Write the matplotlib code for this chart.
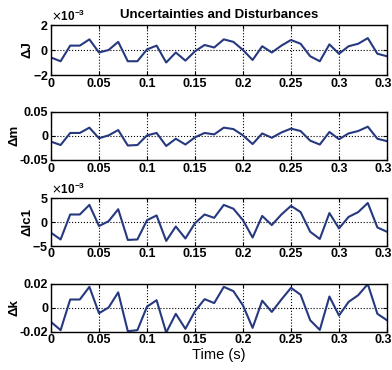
import matplotlib
matplotlib.use("Agg")
import matplotlib.pyplot as plt
from matplotlib.ticker import ScalarFormatter, FuncFormatter
import numpy as np

plt.rcParams['font.family'] = ['Liberation Sans', 'DejaVu Sans']
plt.rcParams['axes.unicode_minus'] = False

time = [0.00, 0.01, 0.02, 0.03, 0.04, 0.05, 0.06, 0.07, 0.08, 0.09,
        0.10, 0.11, 0.12, 0.13, 0.14, 0.15, 0.16, 0.17, 0.18, 0.19,
        0.20, 0.21, 0.22, 0.23, 0.24, 0.25, 0.26, 0.27, 0.28, 0.29,
        0.30, 0.31, 0.32, 0.33, 0.34, 0.35]

dJ = [-0.6e-3, -0.9e-3, 0.35e-3, 0.35e-3, 0.85e-3, -0.2e-3, 0.0, 0.65e-3, -0.9e-3, -0.9e-3,
      0.05e-3, 0.35e-3, -1.0e-3, -0.2e-3, -0.85e-3, -0.1e-3, 0.4e-3, 0.2e-3, 0.85e-3, 0.65e-3,
      0.0, -0.8e-3, 0.3e-3, -0.2e-3, 0.35e-3, 0.8e-3, 0.5e-3, -0.5e-3, -0.9e-3, 0.45e-3,
      -0.3e-3, 0.3e-3, 0.5e-3, 0.95e-3, -0.3e-3, -0.5e-3]

dm = [-0.012, -0.019, 0.006, 0.006, 0.017, -0.005, 0.001, 0.012, -0.020, -0.019,
      0.001, 0.006, -0.021, -0.006, -0.018, -0.003, 0.006, 0.003, 0.017, 0.014,
      0.001, -0.017, 0.005, -0.004, 0.007, 0.015, 0.010, -0.010, -0.018, 0.008,
      -0.007, 0.005, 0.010, 0.019, -0.006, -0.011]

dlc1 = [-2.3e-3, -3.7e-3, 1.5e-3, 1.5e-3, 3.5e-3, -0.9e-3, 0.1e-3, 2.6e-3, -3.8e-3, -3.7e-3,
        0.3e-3, 1.3e-3, -4.0e-3, -1.0e-3, -3.5e-3, -0.3e-3, 1.5e-3, 0.8e-3, 3.5e-3, 2.7e-3,
        0.3e-3, -3.3e-3, 1.2e-3, -0.7e-3, 1.5e-3, 3.3e-3, 2.0e-3, -2.1e-3, -3.6e-3, 1.8e-3,
        -1.4e-3, 1.0e-3, 2.0e-3, 3.9e-3, -1.2e-3, -2.1e-3]

dk = [-0.0118, -0.0187, 0.0070, 0.0070, 0.0176, -0.0045, 0.0003, 0.0130, -0.0196, -0.0187,
      0.0010, 0.0064, -0.0207, -0.0050, -0.0176, -0.0028, 0.0073, 0.0040, 0.0176, 0.0140,
      0.0020, -0.0168, 0.0060, -0.0034, 0.0070, 0.0168, 0.0110, -0.0104, -0.0185, 0.0095,
      -0.0064, 0.0050, 0.0106, 0.0199, -0.0050, -0.0104]

series = [dJ, dm, dlc1, dk]
ylabels = ['ΔJ', 'Δm', 'Δlc1', 'Δk']
ylims = [(-2e-3, 2e-3), (-0.05, 0.05), (-5e-3, 5e-3), (-0.02, 0.02)]
yticks = [[-2e-3, 0, 2e-3], [-0.05, 0, 0.05], [-5e-3, 0, 5e-3], [-0.02, 0, 0.02]]
scaled = [True, False, True, False]
xticks = [0, 0.05, 0.1, 0.15, 0.2, 0.25, 0.3, 0.35]

W, H = 392, 370
fig = plt.figure(figsize=(W / 100, H / 100), dpi=100)
tops = [25, 111.7, 197.7, 284]
bots = [75, 160, 245.7, 331.7]
label_x = [-0.052, -0.09, -0.052, -0.09]
left, right = 51, 387
line_color = '#26397f'

axes = []
for i in range(4):
    ax = fig.add_axes([left / W, 1 - bots[i] / H, (right - left) / W, (bots[i] - tops[i]) / H])
    ax.plot(time, series[i], color=line_color, lw=1.5)
    ax.set_xlim(0, 0.35)
    ax.set_ylim(*ylims[i])
    ax.set_xticks(xticks)
    ax.set_yticks(yticks[i])
    ax.xaxis.set_major_formatter(FuncFormatter(lambda v, p: '%g' % round(v, 3)))
    if scaled[i]:
        fmt = ScalarFormatter(useMathText=True)
        fmt.set_powerlimits((-2, 2))
        ax.yaxis.set_major_formatter(fmt)
        ax.yaxis.get_offset_text().set_fontsize(8.5)
        ax.yaxis.get_offset_text().set_fontweight('bold')
    else:
        ax.yaxis.set_major_formatter(FuncFormatter(lambda v, p: '%g' % round(v, 4)))
    ax.grid(True, color='black', linestyle=':', linewidth=0.8)
    ax.tick_params(direction='in', length=3, labelsize=9, pad=2,
                   top=True, right=True)
    for lab in ax.get_xticklabels() + ax.get_yticklabels():
        lab.set_fontweight('bold')
    for sp in ax.spines.values():
        sp.set_linewidth(1.0)
    ax.set_ylabel(ylabels[i], fontsize=9.5, fontweight='bold')
    ax.yaxis.set_label_coords(label_x[i], 0.5)
    axes.append(ax)

axes[0].set_title('Uncertainties and Disturbances', fontsize=9.5, fontweight='bold', pad=5)
axes[3].set_xlabel('Time (s)', fontsize=10.5, labelpad=1)

fig.savefig('out.png', dpi=100)
